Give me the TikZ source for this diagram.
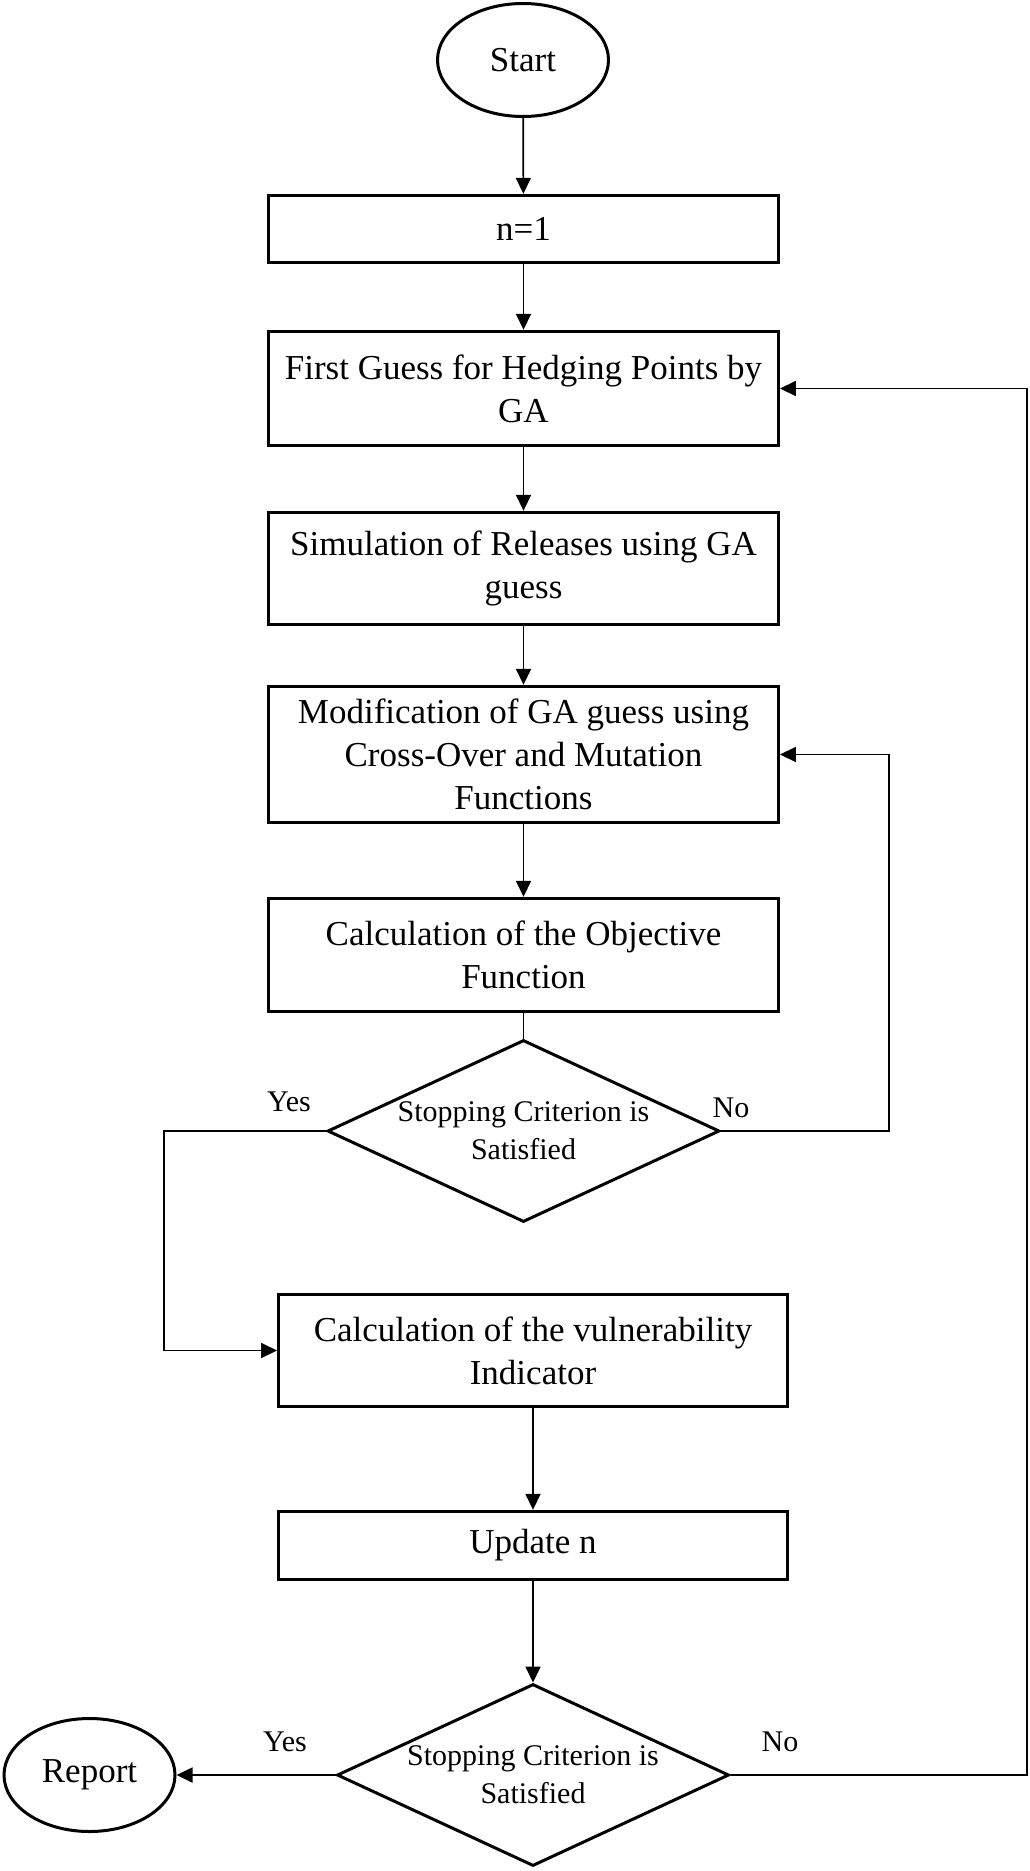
\documentclass[tikz,border=0pt]{standalone}
\usepackage{fontspec}
\setmainfont{Liberation Serif}
\usetikzlibrary{shapes.geometric,arrows.meta}
\begin{document}
\begin{tikzpicture}[x=1pt,y=-1pt,
  box/.style={draw, line width=3.4pt, rectangle, minimum width=509.5pt, inner sep=0pt, align=center, font=\fontsize{35}{43}\selectfont},
  term/.style={draw, line width=3pt, ellipse, minimum width=171pt, minimum height=113pt, inner sep=0pt, font=\fontsize{35}{43}\selectfont},
  dec/.style={draw, line width=3pt, diamond, aspect=2.14, minimum width=392pt, minimum height=182pt, inner sep=0pt, align=center, font=\fontsize{30}{38}\selectfont},
  conn/.style={line width=1.7pt},
  arr/.style={conn, -{Triangle[length=16pt,width=15pt]}},
  lab/.style={font=\fontsize{30}{36}\selectfont, inner sep=0pt}
]
\useasboundingbox (0,0) rectangle (1029,1871);
\node[term] (start) at (523,60) {Start};
\node[box, minimum height=67pt] (n1) at (523.5,229) {n=1};
\node[box, minimum height=114pt] (first) at (523.5,388.5) {First Guess for Hedging Points by\\GA};
\node[box, minimum height=112pt] (sim) at (523.5,568.5) {Simulation of Releases using GA\\guess};
\node[box, minimum height=136pt] (mod) at (523.5,754.5) {Modification of GA guess using\\Cross-Over and Mutation\\Functions};
\node[box, minimum height=113pt] (obj) at (523.5,955) {Calculation of the Objective\\Function};
\node[dec] (d1) at (523.5,1131) {Stopping Criterion is\\Satisfied};
\node[box, minimum height=112pt, minimum width=508.5pt] (vul) at (533,1350.5) {Calculation of the vulnerability\\Indicator};
\node[box, minimum height=68pt, minimum width=508.5pt] (upd) at (533,1545.5) {Update n};
\node[dec] (d2) at (533,1775) {Stopping Criterion is\\Satisfied};
\node[term] (rep) at (89.5,1775) {Report};
\coordinate (xr1) at (889,0);
\coordinate (xr2) at (1027,0);
\coordinate (xl) at (164,0);
\draw[arr] (start) -- (n1);
\draw[arr] (n1) -- (first);
\draw[arr] (first) -- (sim);
\draw[arr] (sim) -- (mod);
\draw[arr] (mod) -- (obj);
\draw[conn] (obj) -- (d1);
\draw[arr] (d1.east) -- (d1.east -| xr1) |- (mod.east);
\draw[arr] (d1.west) -- (d1.west -| xl) |- (vul.west);
\draw[arr] (vul) -- (upd);
\draw[arr] (upd) -- (d2);
\draw[arr] (d2.west) -- (rep.east);
\draw[arr] (d2.east) -- (d2.east -| xr2) |- (first.east);
\node[lab] (yes1) at (289,1102) {Yes};
\node[lab] (no1) at (731,1108) {No};
\node[lab] (yes2) at (285,1742) {Yes};
\node[lab] (no2) at (780,1742) {No};
\end{tikzpicture}
\end{document}
